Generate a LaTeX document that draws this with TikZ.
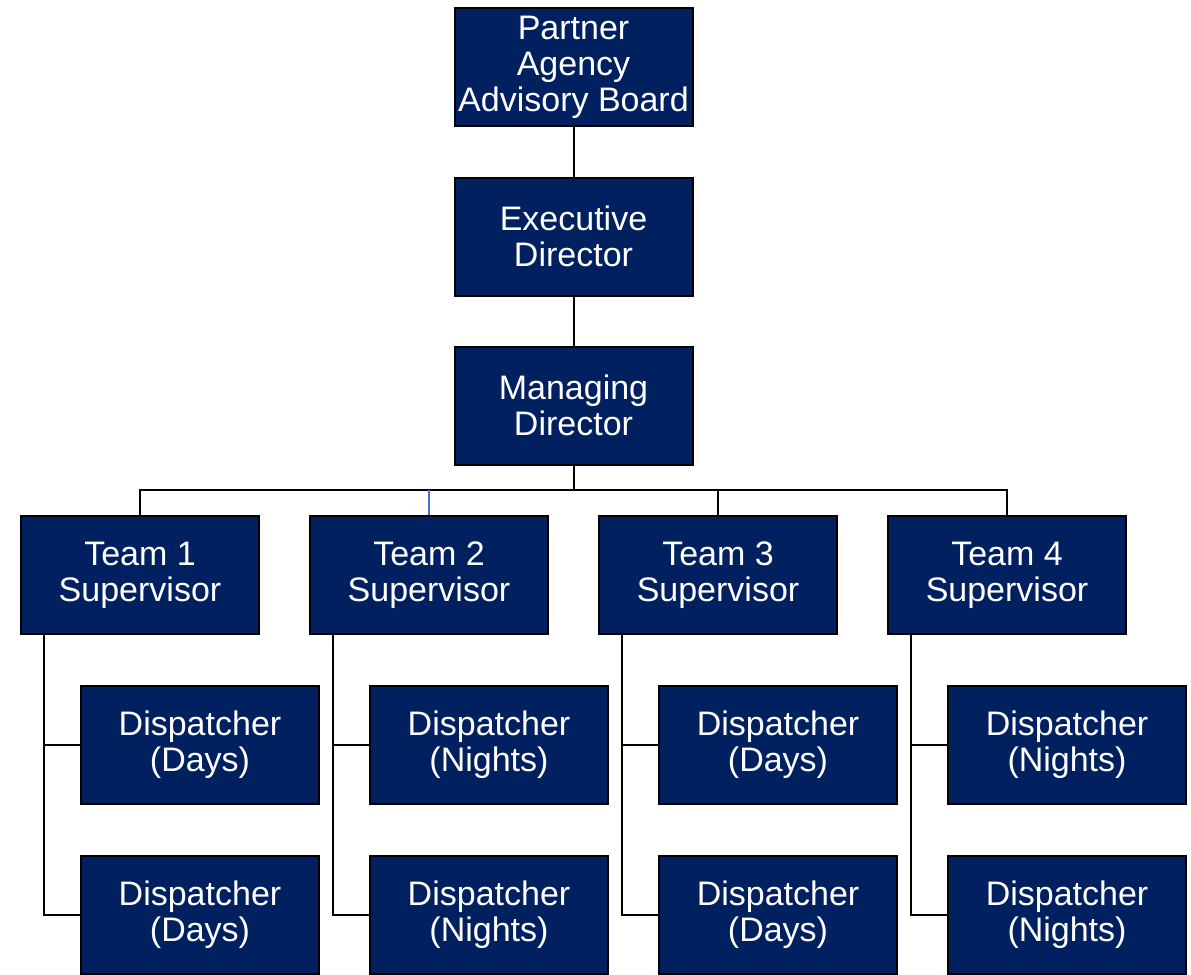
\documentclass[tikz,border=0pt]{standalone}
\usepackage{fontspec}
\setmainfont{Liberation Sans}
\usepackage{xcolor}
\definecolor{navy}{RGB}{0,32,96}
\definecolor{bluelink}{RGB}{68,114,196}

\tikzset{
	box/.style={draw=black, fill=navy, text=white, line width=1.5pt,
		minimum width=178.5pt, minimum height=88.5pt, inner sep=0pt, align=center,
		font=\fontsize{25.5pt}{27pt}\selectfont},
	link/.style={draw=black, line width=1.5pt}
}

\begin{document}
\begin{tikzpicture}[x=0.75pt, y=-0.75pt] % units are pixels, y pointing down

		\useasboundingbox (0,0) rectangle (1191,974);

		% top of the chart
		\node[box] (board) at (573.5,67) {Partner\\Agency\\Advisory Board};
		\node[box] (exec) at (573.5,236.5) {Executive\\Director};
		\node[box] (mgr) at (573.5,405.5) {Managing\\Director};
		\draw[link] (board) -- (exec);
		\draw[link] (exec) -- (mgr);

		% supervisors
		\node[box] (t1) at (140,575) {Team 1\\Supervisor};
		\node[box] (t2) at (429,575) {Team 2\\Supervisor};
		\node[box] (t3) at (718,575) {Team 3\\Supervisor};
		\node[box] (t4) at (1007,575) {Team 4\\Supervisor};

		\coordinate (bus) at (573.5,490);
		\draw[link] (mgr.south) -- (bus);
		\draw[link] (t1.north) |- (bus) -| (t4.north);
		\draw[link] (t3.north) -- (t3.north |- bus);
		\draw[link, draw=bluelink] (t2.north) -- (t2.north |- bus);

		% dispatchers
		\node[box] (d11) at (200,744.5) {Dispatcher\\(Days)};
		\node[box] (d12) at (200,914.5) {Dispatcher\\(Days)};
		\node[box] (d21) at (489,744.5) {Dispatcher\\(Nights)};
		\node[box] (d22) at (489,914.5) {Dispatcher\\(Nights)};
		\node[box] (d31) at (778,744.5) {Dispatcher\\(Days)};
		\node[box] (d32) at (778,914.5) {Dispatcher\\(Days)};
		\node[box] (d41) at (1067,744.5) {Dispatcher\\(Nights)};
		\node[box] (d42) at (1067,914.5) {Dispatcher\\(Nights)};

		\foreach \t in {1,2,3,4} {
			\coordinate (s\t) at ([xshift=18pt]t\t.south west);
			\draw[link] (s\t) |- (d\t2.west);
			\draw[link] (s\t |- d\t1.west) -- (d\t1.west);
		}
\end{tikzpicture}
\end{document}
